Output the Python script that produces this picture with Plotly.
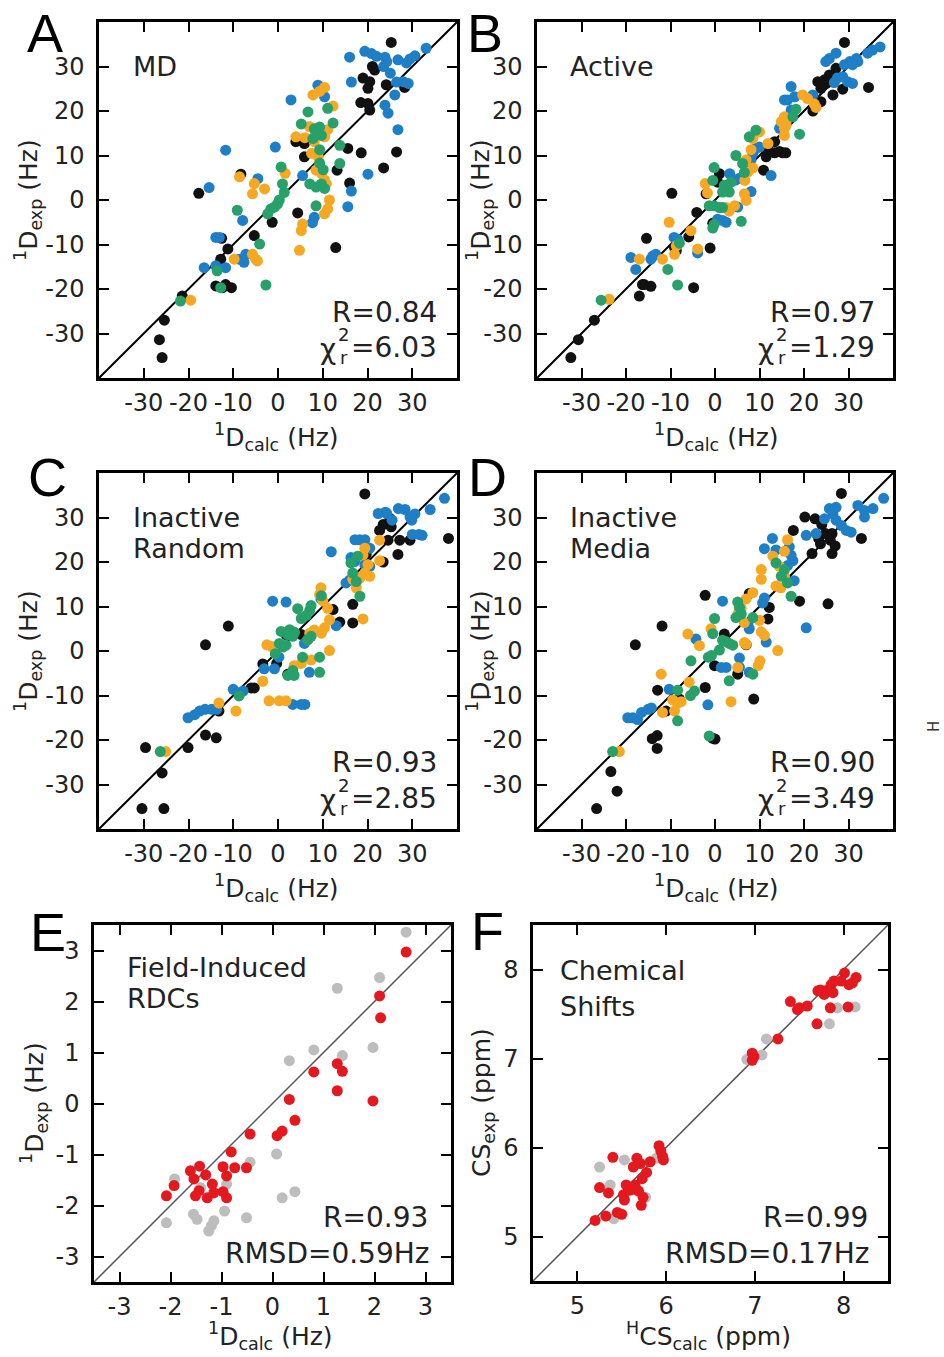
import plotly.graph_objects as go

W, H = 944, 1357

BLACK = "#111111"
BLUE = "#1f7fc6"
ORANGE = "#f7a823"
GREEN = "#27a06a"
RED = "#e3191f"
GRAY = "#bdbdbd"
TXT = "#222222"
FONT = "DejaVu Sans"

# ---- panel A: MD ----
a_black_x = [25.3, 19.0, 20.5, 20.1, 21.1, 21.6, 24.2, 28.3, 18.5, 20.1, 20.5, 15.6, 18.6, 26.5, 23.6, 16.0, 13.2, 4.0, 5.9, 5.9, 4.4, 12.9, -1.3, -5.3, -12.6, -11.2, -12.8, -13.9, -12.4, -11.7, -10.4, -17.7, -21.4, -25.4, -26.5, -25.9, -8.3]
a_black_y = [35.4, 27.4, 26.6, 25.1, 30.0, 29.2, 25.9, 25.3, 21.9, 21.7, 20.2, 11.6, 10.6, 10.8, 7.2, 3.8, 6.7, 13.1, 12.7, 9.7, -2.9, -10.7, -5.0, -8.0, -8.6, -11.0, -13.3, -19.3, -19.7, -19.0, -19.7, 1.5, -21.6, -27.0, -31.4, -35.4, 5.8]
a_blue_x = [33.1, 30.6, 29.5, 28.7, 26.8, 23.9, 24.3, 23.6, 25.1, 19.4, 20.9, 22.0, 16.0, 16.4, 26.5, 28.0, 29.1, 26.1, 23.9, 24.6, 26.8, 16.4, 15.6, 20.1, 8.9, 2.9, 10.4, -0.6, -11.7, -15.4, -4.5, 5.5, 8.1, 7.7, -7.9, -13.9, -13.1, -16.5, -11.7, -8.7, -7.2, -7.6, -13.9]
a_blue_y = [34.1, 32.4, 31.7, 30.8, 31.5, 32.1, 31.1, 30.0, 28.5, 33.4, 32.9, 32.3, 32.1, 26.5, 26.5, 26.6, 26.2, 23.6, 21.3, 19.5, 15.8, 2.0, -1.5, 5.8, 25.8, 22.5, 23.2, 11.9, 11.2, 2.8, 4.8, 5.5, -3.9, -5.1, -4.6, -8.4, -8.4, -15.2, -15.2, -13.3, -12.2, -14.0, -14.8]
a_orange_x = [7.8, 9.3, 10.4, 12.3, 4.0, 7.0, 8.5, 9.3, 10.4, 11.1, 8.1, 9.0, 9.3, 8.5, 9.7, 10.4, 10.8, 11.5, 11.1, 10.4, 5.2, 5.5, 4.8, 1.6, -8.6, -5.3, -5.7, -3.0, -9.8, -5.7, -5.0, -4.6, -19.5, 6.0, 7.5]
a_orange_y = [23.6, 24.4, 25.3, 21.1, 14.2, 16.5, 15.0, 15.8, 14.2, 15.8, 13.1, 9.7, 7.8, 6.7, 6.0, 4.5, 3.7, 0.0, -2.0, -3.1, -6.9, -5.4, -11.3, 6.0, 5.2, 3.7, 1.4, 2.5, -13.3, -12.2, -13.3, -13.7, -22.5, 14.0, 10.5]
a_green_x = [6.7, 11.1, 5.2, 8.1, 9.3, 9.7, 12.3, 7.8, 13.8, 9.3, 9.3, 10.1, 13.8, 7.1, 8.5, 9.7, 10.4, 8.5, 0.7, 1.0, 1.4, 0.3, -0.1, -0.8, -1.6, -2.3, -9.1, -4.1, -13.6, -12.8, -2.7, -21.8]
a_green_y = [19.8, 20.6, 17.1, 16.0, 16.4, 14.5, 17.3, 13.8, 12.3, 11.3, 8.3, 6.8, 8.2, 3.6, 2.9, 3.6, 2.6, -1.3, 7.4, 3.6, 1.7, 0.0, -0.9, -1.6, -2.0, -3.1, -2.3, -9.9, -15.9, -19.7, -19.1, -22.7]

# ---- panel B: Active ----
b_black_x = [29.1, 34.5, 28.7, 27.2, 25.7, 24.6, 23.1, 23.8, 25.0, 26.5, 23.8, 22.0, 26.1, 13.4, 14.5, 15.2, 15.9, 11.5, 11.9, 13.4, 10.9, 1.0, 0.6, -2.0, -0.5, -4.1, -9.7, -5.9, -9.1, -8.7, -1.1, -15.4, -16.3, -14.4, -17.0, -15.9, -4.8, -27.1, -30.7, -32.4]
b_black_y = [35.4, 25.3, 24.9, 29.6, 28.1, 27.0, 26.6, 25.1, 26.2, 23.6, 22.1, 20.0, 26.6, 10.6, 10.9, 10.6, 10.6, 9.7, 11.9, 13.1, 6.7, 5.9, 4.0, 1.4, -5.2, -2.8, 1.5, -8.3, -10.7, -11.4, -10.8, -8.6, -19.0, -19.4, -21.6, -19.0, -19.7, -27.0, -31.4, -35.4]
b_blue_x = [37.1, 34.3, 35.4, 31.8, 30.3, 29.1, 27.2, 25.7, 24.9, 30.9, 32.1, 30.9, 29.8, 28.7, 27.5, 26.8, 17.1, 15.6, 16.3, 17.9, 17.1, 22.0, 14.5, 9.2, 8.5, 10.0, 8.1, 12.6, 3.3, 4.7, 5.5, 8.1, 5.1, 0.6, 1.7, 2.5, -3.9, -9.2, -8.4, -14.4, -13.3, -14.0, -18.9, -17.8]
b_blue_y = [34.4, 33.0, 33.7, 31.8, 31.1, 30.4, 33.0, 31.8, 31.1, 30.4, 31.1, 26.2, 26.6, 27.7, 27.4, 26.4, 25.5, 22.5, 22.5, 23.2, 20.2, 23.6, 16.1, 11.6, 10.5, 11.9, 9.0, 5.5, 5.9, 4.5, 4.9, 1.9, -1.6, -4.3, -4.6, -5.0, -11.9, -8.4, -8.8, -13.3, -12.2, -12.6, -12.9, -15.6]
b_orange_x = [19.7, 20.8, 22.7, 22.3, 15.6, 14.9, 15.6, 16.0, 15.6, 16.3, 10.0, 8.5, 11.9, 8.1, 7.0, 8.5, 7.4, 6.7, 6.6, 7.0, -2.2, -1.7, 3.2, 2.5, 4.4, -10.3, -8.7, -9.1, -5.4, -3.9, -11.8, -17.0, -23.8]
b_orange_y = [23.6, 22.8, 20.8, 21.6, 18.7, 17.6, 14.5, 16.8, 16.1, 18.3, 15.3, 13.8, 12.7, 11.3, 9.0, 7.2, 6.3, 4.4, 1.4, -0.1, 3.7, 1.6, -2.5, -1.7, -1.3, -5.0, -10.3, -12.2, -6.9, -11.0, -13.3, -13.3, -22.3]
b_green_x = [18.2, 19.0, 17.5, 9.2, 7.7, 4.7, 6.2, 6.6, -0.2, -0.5, 2.1, 2.8, 3.6, 3.2, 1.7, -1.3, -0.2, 1.0, 1.7, 5.9, -0.5, -0.2, -8.0, -10.6, -8.4, -25.6]
b_green_y = [20.4, 14.8, 18.7, 15.7, 14.2, 10.0, 8.2, 6.2, 7.3, 4.4, 3.3, 2.2, 4.0, 1.8, 1.8, -1.3, -1.3, -1.7, -1.7, -4.8, -6.3, -5.5, -9.7, -15.6, -19.1, -22.5]

# ---- panel C: Inactive Random ----
c_black_x = [19.4, 38.1, 22.7, 23.5, 25.0, 25.3, 24.6, 27.2, 29.5, 26.8, 23.5, 19.7, 12.3, 16.7, 16.7, 13.8, 1.8, 5.2, 2.2, -0.3, -3.4, -6.0, -5.3, -13.2, -11.1, -16.2, -16.2, -13.8, -20.1, -29.6, -25.9, -30.4, -25.5]
c_black_y = [35.3, 25.3, 27.1, 28.4, 29.8, 27.9, 24.9, 24.9, 24.9, 21.7, 20.0, 21.7, 9.3, 10.5, 6.3, 6.5, 3.7, 3.7, -5.2, -2.8, -2.9, -8.3, -8.3, -13.5, 5.6, 1.4, -18.9, -19.5, -21.7, -21.7, -27.4, -35.4, -35.4]
c_blue_x = [37.2, 34.0, 30.6, 29.5, 28.4, 26.9, 22.4, 24.3, 25.5, 24.0, 29.9, 30.0, 31.5, 32.2, 17.2, 18.3, 19.4, 20.5, 16.3, 17.1, 19.4, 20.5, 11.9, 16.0, 15.2, 9.6, 13.0, -1.2, 1.8, 5.9, 0.2, -0.8, -3.1, 3.3, 7.0, 3.3, 5.2, 6.0, -10.0, -7.8, -8.6, -20.1, -18.6, -17.5, -16.3, -14.8, -13.7]
c_blue_y = [34.3, 31.8, 30.8, 30.1, 31.8, 32.0, 30.9, 30.9, 29.4, 31.2, 29.4, 26.2, 26.2, 26.0, 25.0, 25.0, 25.0, 23.1, 21.0, 20.1, 19.4, 19.0, 22.3, 15.9, 15.3, 11.7, 5.7, 11.2, 11.0, 1.7, -1.4, -4.0, -4.0, -4.8, -4.8, -12.0, -12.0, -12.0, -8.6, -9.0, -9.4, -15.0, -14.3, -13.5, -13.1, -13.1, -13.1]
c_orange_x = [22.7, 19.4, 19.0, 20.1, 20.5, 19.4, 18.3, 17.5, 16.7, 22.7, 9.6, 10.0, 9.3, 11.1, 11.5, 10.4, 9.7, 8.1, 7.1, 6.7, 19.0, 11.5, 7.4, 5.2, 3.6, -2.5, -1.4, -3.4, -2.0, 0.3, 1.8, -13.2, -9.4, -25.1]
c_orange_y = [24.9, 23.1, 21.6, 19.4, 16.8, 17.5, 16.4, 14.2, 16.1, 20.3, 14.2, 11.3, 12.7, 9.6, 7.0, 5.2, 4.0, 4.7, 4.0, 2.5, 7.2, 0.1, -2.0, -2.8, -3.3, 1.4, 1.0, -6.8, -11.2, -11.2, -11.2, -11.7, -13.5, -22.6]
c_green_x = [16.3, 17.8, 16.7, 17.5, 18.3, 9.7, 7.1, 6.3, 5.2, 4.4, 7.4, 0.7, 2.2, 2.6, 3.7, 3.3, 0.3, 1.1, 1.8, -0.6, 6.6, 7.4, 5.5, 9.3, 9.3, 2.2, 3.6, 3.3, -8.7, -26.3]
c_green_y = [19.8, 21.3, 17.5, 15.6, 12.3, 12.4, 9.2, 8.0, 7.3, 9.5, 10.2, 4.4, 3.7, 4.8, 4.2, 3.3, 1.7, 0.9, 1.3, -0.6, 2.5, 3.3, -1.4, -1.4, -4.8, -5.5, -5.5, -4.4, -10.1, -22.6]

# ---- panel D: Inactive Media ----
d_black_x = [28.4, 32.9, 20.2, 22.5, 17.6, 24.0, 24.8, 23.3, 25.9, 26.3, 23.7, 21.8, 26.3, 27.0, 19.0, 25.4, 7.7, 12.2, 11.9, 7.0, 2.1, 5.1, -0.1, -2.2, -11.9, -17.9, -12.9, -2.2, -8.0, -11.0, -13.0, -14.1, -13.0, -0.6, 0.0, 8.7, -23.4, -22.0, -26.6]
d_black_y = [35.4, 25.3, 30.1, 29.7, 27.1, 28.4, 26.4, 25.3, 24.9, 26.4, 24.1, 21.9, 21.9, 23.6, 11.2, 10.6, 12.9, 9.8, 7.2, 1.4, 3.8, -5.2, -3.3, 12.5, 5.6, 1.4, -8.8, -8.2, -10.8, -13.5, -19.0, -19.7, -21.9, -19.6, -19.8, -10.8, -27.1, -31.5, -35.4]
d_blue_x = [37.9, 35.5, 33.6, 33.6, 32.1, 27.2, 25.7, 26.5, 27.2, 28.4, 29.5, 30.6, 24.6, 22.7, 20.5, 12.9, 13.7, 11.1, 16.7, 17.1, 17.5, 16.3, 17.8, 11.1, 10.7, 1.7, 20.5, 7.4, 7.7, 11.5, 5.5, 5.5, 1.4, 2.5, 7.7, -4.3, -10.3, -1.6, -15.0, -16.5, -14.3, -19.6, -18.5, -17.4]
d_blue_y = [34.3, 32.0, 30.1, 31.6, 32.7, 32.3, 32.0, 30.8, 29.4, 28.2, 27.1, 26.7, 29.7, 26.4, 26.0, 25.3, 22.7, 23.0, 23.4, 21.5, 20.3, 19.2, 15.8, 11.9, 10.8, 11.2, 5.2, 6.1, 5.0, 2.0, -1.6, -3.7, -3.7, -3.7, -4.8, 2.7, -8.6, -12.1, -13.1, -13.8, -12.8, -15.0, -15.0, -15.4]
d_orange_x = [16.3, 15.6, 14.5, 15.6, 14.8, 13.0, 10.4, 10.4, 13.7, 8.5, 7.0, 5.9, 5.2, 10.0, 10.4, 11.1, 6.6, 6.6, 7.0, 14.1, 10.1, 9.7, 5.1, -0.9, -6.1, -3.5, -12.1, -5.8, -9.5, -8.4, -7.6, -9.1, -11.8, 3.6, -21.5]
d_orange_y = [25.0, 22.4, 19.0, 16.8, 14.2, 21.3, 18.3, 16.1, 14.6, 13.1, 11.7, 9.6, 8.4, 6.9, 4.3, 3.5, 6.4, 1.9, 1.5, 0.1, -2.2, -3.3, -3.7, 5.0, 3.8, 1.2, -5.2, -7.0, -11.0, -11.7, -11.4, -13.5, -13.8, -11.4, -22.6]
d_green_x = [13.7, 15.6, 14.9, 16.3, 17.1, 5.1, 5.5, 5.9, 4.7, 8.5, -0.1, -0.5, 1.7, 2.5, 3.2, 4.0, 1.0, -1.5, -0.8, -5.4, 3.2, 8.5, -5.5, -4.6, -8.4, -8.4, -1.3, -23.0]
d_green_y = [19.8, 18.3, 16.8, 15.3, 12.3, 11.0, 9.8, 8.3, 7.5, 7.5, 7.3, 3.9, 2.4, 2.1, 1.7, 1.3, 0.2, -1.4, -1.0, -2.2, -6.7, -5.2, -10.0, -9.0, -8.8, -15.7, -19.1, -22.6]

# ---- panel E: field-induced RDCs ----
e_red_x = [2.62, 2.10, 2.12, 1.27, 1.37, 1.27, 1.97, 0.81, 0.33, 0.44, 0.19, 0.09, -0.44, -0.81, -0.51, -0.74, -0.97, -0.90, -0.97, -0.90, -1.18, -1.15, -1.28, -1.31, -1.43, -1.61, -1.54, -1.44, -1.51, -1.93, -2.08]
e_red_y = [2.97, 2.11, 1.68, 0.78, 0.63, 0.25, 0.05, 0.62, 0.08, -0.33, -0.54, -0.63, -0.60, -0.95, -1.26, -1.26, -1.24, -1.42, -1.73, -1.85, -1.58, -1.75, -1.85, -1.40, -1.23, -1.32, -1.48, -1.71, -1.81, -1.61, -1.81]
e_gray_x = [2.62, 2.10, 1.27, 1.97, 0.81, 1.37, 0.33, 0.08, 0.19, 0.44, -0.44, -0.51, -0.94, -0.90, -1.15, -1.25, -1.20, -1.55, -1.48, -1.92, -2.08, -1.41]
e_gray_y = [3.36, 2.47, 2.26, 1.10, 1.05, 0.94, 0.84, -0.99, -1.85, -1.73, -1.15, -2.24, -2.11, -1.58, -2.30, -2.50, -2.40, -2.17, -2.27, -1.48, -2.34, -1.65]

# ---- panel F: chemical shifts ----
f_red_x = [8.01, 8.14, 8.10, 8.06, 7.97, 7.89, 7.86, 7.82, 7.74, 7.78, 7.88, 7.71, 7.85, 8.05, 7.70, 7.40, 7.50, 7.59, 7.48, 7.26, 6.97, 6.99, 6.97, 5.92, 5.94, 5.96, 5.97, 5.82, 5.71, 5.63, 5.67, 5.78, 5.73, 5.65, 5.59, 5.52, 5.55, 5.69, 5.74, 5.72, 5.63, 5.40, 5.25, 5.35, 5.53, 5.45, 5.50, 5.32, 5.20]
f_red_y = [7.96, 7.91, 7.85, 7.83, 7.87, 7.87, 7.83, 7.77, 7.77, 7.72, 7.74, 7.76, 7.57, 7.58, 7.39, 7.64, 7.57, 7.59, 7.55, 7.22, 6.98, 7.02, 7.06, 6.02, 5.96, 5.90, 5.86, 5.84, 5.82, 5.78, 5.88, 5.72, 5.65, 5.58, 5.52, 5.47, 5.58, 5.51, 5.44, 5.35, 5.53, 5.89, 5.55, 5.49, 5.41, 5.27, 5.25, 5.23, 5.18]
f_gray_x = [8.13, 7.93, 7.84, 7.13, 7.08, 6.91, 5.25, 5.53, 5.37, 5.77, 5.41, 5.89]
f_gray_y = [7.58, 7.57, 7.39, 7.22, 7.04, 6.99, 5.78, 5.86, 5.58, 5.44, 5.20, 5.88]

rdc_ticks = [-30, -20, -10, 0, 10, 20, 30]
e_ticks = [-3, -2, -1, 0, 1, 2, 3]
f_ticks = [5, 6, 7, 8]

# (letter, letter centre px, box l,t,r,b in px, range, ticks, series)
panels = [
    ("A", (45, 33), (99, 22, 457, 378), [-40, 40], rdc_ticks,
     [(a_black_x, a_black_y, BLACK), (a_blue_x, a_blue_y, BLUE), (a_orange_x, a_orange_y, ORANGE), (a_green_x, a_green_y, GREEN)]),
    ("B", (485, 33), (537, 22, 893, 378), [-40, 40], rdc_ticks,
     [(b_black_x, b_black_y, BLACK), (b_blue_x, b_blue_y, BLUE), (b_orange_x, b_orange_y, ORANGE), (b_green_x, b_green_y, GREEN)]),
    ("C", (47, 477), (99, 473, 457, 829), [-40, 40], rdc_ticks,
     [(c_black_x, c_black_y, BLACK), (c_blue_x, c_blue_y, BLUE), (c_orange_x, c_orange_y, ORANGE), (c_green_x, c_green_y, GREEN)]),
    ("D", (487, 477), (537, 473, 893, 829), [-40, 40], rdc_ticks,
     [(d_black_x, d_black_y, BLACK), (d_blue_x, d_blue_y, BLUE), (d_orange_x, d_orange_y, ORANGE), (d_green_x, d_green_y, GREEN)]),
    ("E", (48, 932), (94, 925, 451, 1282), [-3.5, 3.5], e_ticks,
     [(e_gray_x, e_gray_y, GRAY), (e_red_x, e_red_y, RED)]),
    ("F", (488, 931), (533, 925, 888, 1281), [4.5, 8.5], f_ticks,
     [(f_gray_x, f_gray_y, GRAY), (f_red_x, f_red_y, RED)]),
]


def fx(p):
    return p / W


def fy(p):
    return 1 - p / H


def note(text, x, y, size, xanchor="center", angle=0, color=TXT, family=FONT):
    return dict(
        text=text, x=fx(x), y=fy(y), xref="paper", yref="paper",
        xanchor=xanchor, yanchor="middle", textangle=angle, showarrow=False,
        font=dict(family=family, size=size, color=color),
    )


fig = go.Figure()
layout = dict(
    width=W, height=H, margin=dict(l=0, r=0, t=0, b=0),
    paper_bgcolor="white", plot_bgcolor="white", showlegend=False,
    font=dict(family=FONT, color=TXT),
)
annotations = []

for i, (letter, lpos, box, rng, ticks, series) in enumerate(panels):
    n = "" if i == 0 else str(i + 1)
    l, t, r, b = box
    ax = dict(
        range=rng, showgrid=False, zeroline=False,
        showline=True, linecolor="black", linewidth=2.5, mirror="ticks",
        ticks="inside", ticklen=10, tickwidth=2, tickcolor="black",
        tickvals=ticks, ticktext=[str(v) for v in ticks],
        tickfont=dict(family=FONT, size=24, color=TXT),
    )
    layout["xaxis" + n] = dict(ax, domain=[fx(l), fx(r)], anchor="y" + n, ticklabelstandoff=1)
    layout["yaxis" + n] = dict(ax, domain=[fy(b), fy(t)], anchor="x" + n, ticklabelstandoff=7)

    small = letter in "EF"
    fig.add_trace(go.Scatter(
        x=rng, y=rng, mode="lines", xaxis="x" + n, yaxis="y" + n,
        line=dict(color="#555555" if small else "black", width=1.5 if small else 2),
        hoverinfo="skip",
    ))
    for xs, ys, col in series:
        fig.add_trace(go.Scatter(
            x=xs, y=ys, mode="markers", xaxis="x" + n, yaxis="y" + n,
            marker=dict(size=11, color=col, line=dict(width=0)),
        ))

    annotations.append(note(letter, lpos[0], lpos[1], 54, color="black", family="Liberation Sans"))

# axis titles
ytitle_rdc = "<sup>1</sup>D<sub>exp</sub> (Hz)"
xtitle_rdc = "<sup>1</sup>D<sub>calc</sub> (Hz)"
titles = [
    (xtitle_rdc, 276, 437, 0), (xtitle_rdc, 716, 437, 0),
    (xtitle_rdc, 276, 888, 0), (xtitle_rdc, 716, 888, 0),
    (xtitle_rdc, 270, 1336, 0), ("<sup>H</sup>CS<sub>calc</sub> (ppm)", 708, 1336, 0),
    (ytitle_rdc, 28, 200, -90), (ytitle_rdc, 480, 200, -90),
    (ytitle_rdc, 28, 651, -90), (ytitle_rdc, 480, 651, -90),
    (ytitle_rdc, 34, 1103, -90), ("CS<sub>exp</sub> (ppm)", 483, 1103, -90),
]
for txt, x, y, ang in titles:
    annotations.append(note(txt, x, y, 25, angle=ang))

# in-panel labels: (text, left px, centre px)
names = [
    ("MD", 131, 67), ("Active", 568, 67),
    ("Inactive", 131, 517), ("Random", 131, 548),
    ("Inactive", 568, 517), ("Media", 568, 548),
    ("Field-Induced", 125, 967), ("RDCs", 125, 998),
    ("Chemical", 558, 970), ("Shifts", 558, 1006),
]
for s, x, y in names:
    annotations.append(note(s, x, y, 27, xanchor="left"))

# statistics: R line, then reduced chi-square line
stats = [
    ("R=0.84", "6.03", 439, 22), ("R=0.97", "1.29", 877, 22),
    ("R=0.93", "2.85", 439, 473), ("R=0.90", "3.49", 877, 473),
]
for rtxt, chi, rx, top in stats:
    annotations.append(note(rtxt, rx, top + 290, 28, xanchor="right"))
    annotations.append(note("=" + chi, rx, top + 325, 28, xanchor="right"))
    annotations.append(note("2<br>r", rx - 88, top + 324, 18, xanchor="right"))
    annotations.append(note("χ", rx - 101, top + 327, 28, xanchor="right"))

# statistics: R line, then RMSD line
for rtxt, rmsd, rx, top in [("R=0.93", "RMSD=0.59Hz", 430, 925), ("R=0.99", "RMSD=0.17Hz", 870, 925)]:
    annotations.append(note(rtxt, rx, top + 292, 28, xanchor="right"))
    annotations.append(note(rmsd, rx + 2, top + 328, 28, xanchor="right"))

# clipped label fragment at right edge
annotations.append(note("H", 934, 727, 15, angle=-90, color="#333333"))

layout["annotations"] = annotations
fig.update_layout(**layout)
fig.write_html("out.html", config={"displayModeBar": False},
               post_script="document.body.style.margin='0';")
